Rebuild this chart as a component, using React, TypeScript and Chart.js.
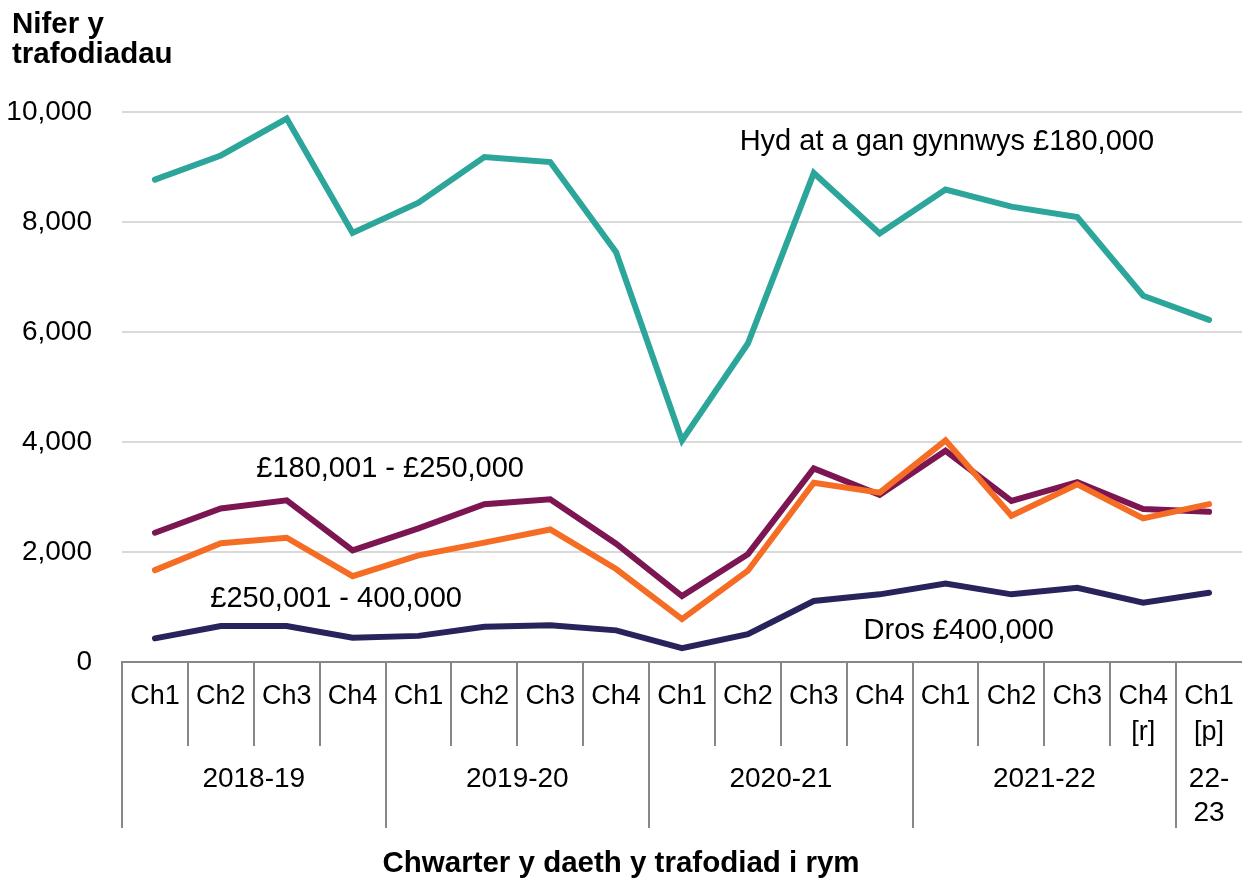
import React, { useEffect, useRef } from "react";
import { Chart, registerables } from "chart.js";

Chart.register(...registerables);

// ---- Data ----
const quarterLabels: string[][] = [
  ["Ch1"], ["Ch2"], ["Ch3"], ["Ch4"],
  ["Ch1"], ["Ch2"], ["Ch3"], ["Ch4"],
  ["Ch1"], ["Ch2"], ["Ch3"], ["Ch4"],
  ["Ch1"], ["Ch2"], ["Ch3"], ["Ch4", "[r]"],
  ["Ch1", "[p]"],
];
const yearLabels: string[][] = [["2018-19"], ["2019-20"], ["2020-21"], ["2021-22"], ["22-", "23"]];
const yearSpans: number[] = [4, 4, 4, 4, 1];

const upTo180k: number[] = [8770, 9210, 9880, 7800, 8350, 9180, 9090, 7450, 4030, 5790, 8890, 7790, 8590, 8280, 8090, 6660, 6220];
const from180kTo250k: number[] = [2350, 2790, 2940, 2030, 2430, 2870, 2960, 2150, 1200, 1960, 3520, 3040, 3840, 2930, 3270, 2780, 2730];
const from250kTo400k: number[] = [1670, 2160, 2260, 1560, 1940, 2170, 2410, 1690, 780, 1660, 3260, 3080, 4030, 2660, 3230, 2610, 2870];
const over400k: number[] = [430, 655, 655, 440, 475, 640, 670, 575, 250, 505, 1110, 1230, 1425, 1230, 1350, 1080, 1260];

const seriesNames: string[] = [
  "Hyd at a gan gynnwys £180,000",
  "£180,001 - £250,000",
  "£250,001 - 400,000",
  "Dros £400,000",
];
const seriesColors: string[] = ["#2ca59a", "#7c1652", "#f56d25", "#29235c"];

// annotation anchor points in data space (category index, value)
const annotationTexts: string[] = seriesNames;
const annotationCategory: number[] = [12.02, 3.57, 2.75, 12.2];
const annotationValue: number[] = [9455, 3509, 1145, 564];

const yMin = 0;
const yMax = 10000;
const yStep = 2000;

const yTitleLines: string[] = ["Nifer y", "trafodiadau"];
const xTitle = "Chwarter y daeth y trafodiad i rym";

const FONT = '"Liberation Sans", Arial, sans-serif';
const AXIS_GRAY = "#878787";

const customPlugin = {
  id: "customAxes",
  afterDraw(chart: any) {
    const { ctx, chartArea, scales } = chart;
    const x = scales.x;
    const y = scales.y;
    const bottom = chartArea.bottom;
    ctx.save();

    // separators
    const yearStarts = new Set<number>();
    let acc = 0;
    yearSpans.forEach((s) => { yearStarts.add(acc); acc += s; });
    ctx.strokeStyle = AXIS_GRAY;
    ctx.lineWidth = 2;
    for (let k = 0; k < quarterLabels.length; k++) {
      const px = Math.round(x.getPixelForValue(k - 0.5));
      const end = yearStarts.has(k) ? bottom + 166 : bottom + 84;
      ctx.beginPath();
      ctx.moveTo(px, bottom);
      ctx.lineTo(px, end);
      ctx.stroke();
    }

    // quarter labels
    ctx.fillStyle = "#000";
    ctx.textAlign = "center";
    ctx.textBaseline = "middle";
    ctx.font = `27px ${FONT}`;
    quarterLabels.forEach((lines, i) => {
      const px = x.getPixelForValue(i);
      lines.forEach((t, j) => ctx.fillText(t, px, bottom + 35 + j * 36));
    });

    // year labels
    ctx.font = `28px ${FONT}`;
    let start = 0;
    yearLabels.forEach((lines, g) => {
      const a = x.getPixelForValue(start - 0.5);
      const b = x.getPixelForValue(start + yearSpans[g] - 0.5);
      const cx = (a + b) / 2;
      lines.forEach((t, j) => ctx.fillText(t, cx, bottom + 117 + j * 34));
      start += yearSpans[g];
    });

    // x title
    ctx.font = `bold 29.5px ${FONT}`;
    ctx.fillText(xTitle, chart.width / 2, bottom + 202);

    // y title
    ctx.textAlign = "left";
    ctx.textBaseline = "alphabetic";
    ctx.font = `bold 29.5px ${FONT}`;
    yTitleLines.forEach((t, j) => ctx.fillText(t, 12, 33 + j * 30));

    // annotations
    ctx.font = `29px ${FONT}`;
    ctx.textAlign = "center";
    ctx.textBaseline = "middle";
    annotationTexts.forEach((t, i) => {
      ctx.fillText(t, x.getPixelForValue(annotationCategory[i]), y.getPixelForValue(annotationValue[i]));
    });

    ctx.restore();
  },
};

export default function App() {
  const ref = useRef<HTMLCanvasElement | null>(null);

  useEffect(() => {
    document.body.style.margin = "0";
    const canvas = ref.current;
    if (!canvas) return;
    const seriesData = [upTo180k, from180kTo250k, from250kTo400k, over400k];
    // orange drawn above maroon: dataset order controls stacking
    const drawOrder = [0, 2, 1, 3];
    const chart = new Chart(canvas, {
      type: "line",
      data: {
        labels: quarterLabels.map((l) => l.join(" ")),
        datasets: drawOrder.map((i) => ({
          label: seriesNames[i],
          data: seriesData[i],
          borderColor: seriesColors[i],
          backgroundColor: seriesColors[i],
          borderWidth: 6,
          pointRadius: 0,
          tension: 0,
          fill: false,
          borderJoinStyle: "miter" as const,
          borderCapStyle: "round" as const,
        })),
      },
      options: {
        responsive: false,
        animation: false,
        layout: { padding: { top: 112, right: 0, bottom: 0, left: 0 } },
        plugins: {
          legend: { display: false },
          tooltip: { enabled: false },
          title: { display: false },
        },
        scales: {
          x: {
            type: "category",
            offset: true,
            grid: { display: false },
            border: { display: true, color: AXIS_GRAY, width: 2 },
            ticks: { display: false },
            afterFit: (scale: any) => { scale.height = 219; },
          },
          y: {
            min: yMin,
            max: yMax,
            grid: { color: "#d9d9d9", lineWidth: 2, drawTicks: false },
            border: { display: false },
            ticks: {
              stepSize: yStep,
              padding: 30,
              color: "#000",
              font: { family: FONT, size: 28 },
              callback: (v: any) => Number(v).toLocaleString("en-GB"),
            },
            afterFit: (scale: any) => { scale.width = 122; },
          },
        },
      },
      plugins: [customPlugin],
    });
    return () => chart.destroy();
  }, []);

  return (
    <div style={{ width: 1242, height: 881 }}>
      <canvas ref={ref} width={1242} height={881} style={{ display: "block" }} />
    </div>
  );
}
